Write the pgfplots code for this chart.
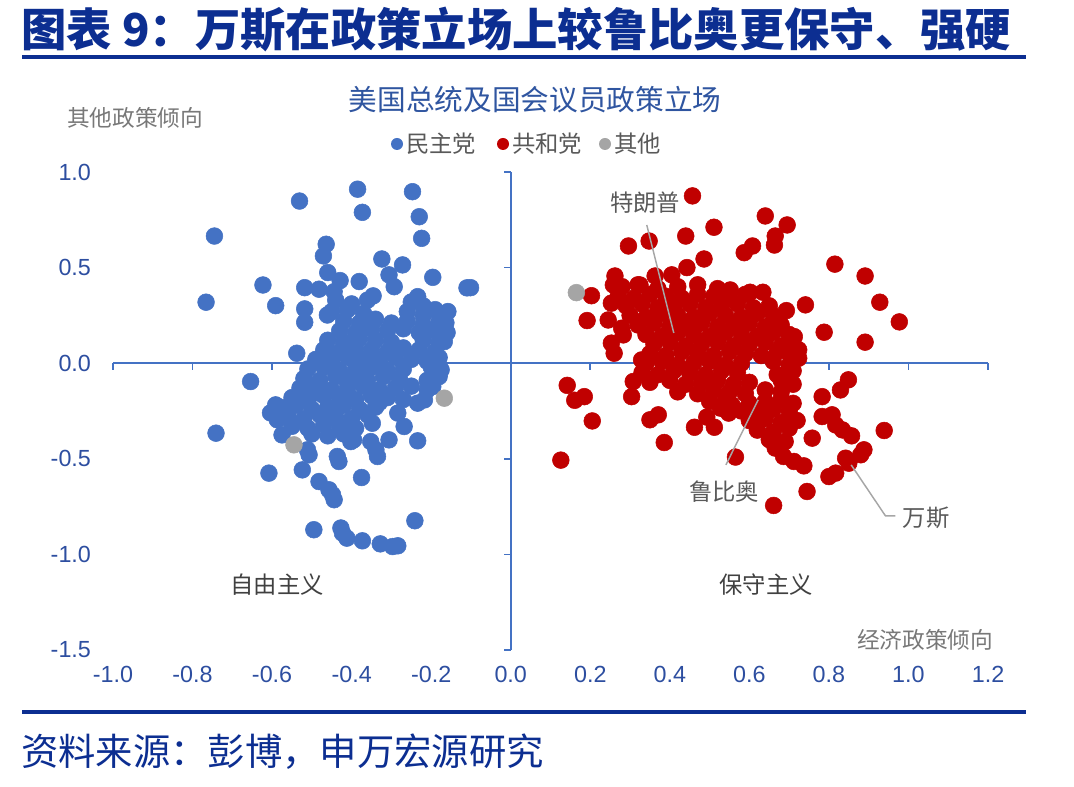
\documentclass[border=0pt]{standalone}
\usepackage{pgfplots}
\pgfplotsset{compat=1.18}
\usepackage{fontspec}
\setmainfont{Liberation Sans}
\newfontfamily\cjk{Noto Sans CJK SC}

\definecolor{titleblue}{RGB}{12,46,145}
\definecolor{chartblue}{RGB}{47,85,160}
\definecolor{tickblue}{RGB}{45,78,160}
\definecolor{axisblue}{RGB}{68,114,196}
\definecolor{dem}{RGB}{68,114,196}
\definecolor{rep}{RGB}{192,0,0}
\definecolor{oth}{RGB}{165,165,165}
\definecolor{lblgray}{RGB}{120,120,120}
\definecolor{annogray}{RGB}{89,89,89}
\definecolor{darkgray}{RGB}{64,64,64}
\definecolor{leader}{RGB}{166,166,166}

\begin{document}
\begin{tikzpicture}[x=0.75pt,y=0.75pt]
\path[use as bounding box] (0,0) rectangle (1074,787);

% heading and rules
\node[anchor=west, text=titleblue, font=\cjk\bfseries\fontsize{34}{40}\selectfont, inner sep=0pt] at (21,757) {图表 9：万斯在政策立场上较鲁比奥更保守、强硬};
\fill[titleblue] (22,728) rectangle (1026,732);
\fill[titleblue] (22,73) rectangle (1026,77);
\node[anchor=west, text=titleblue, font=\cjk\fontsize{28}{32}\selectfont, inner sep=0pt] at (21,35) {资料来源：彭博，申万宏源研究};

% chart title and legend
\node[text=chartblue, font=\cjk\fontsize{21.5}{24}\selectfont] at (535,687) {美国总统及国会议员政策立场};
\fill[dem] (397,643) circle (6);
\node[anchor=west, inner sep=0pt, text=annogray, font=\cjk\fontsize{17.5}{20}\selectfont] at (406,643) {民主党};
\fill[rep] (503,643) circle (6);
\node[anchor=west, inner sep=0pt, text=annogray, font=\cjk\fontsize{17.5}{20}\selectfont] at (512,643) {共和党};
\fill[oth] (605,643) circle (6);
\node[anchor=west, inner sep=0pt, text=annogray, font=\cjk\fontsize{17.5}{20}\selectfont] at (614,643) {其他};

\begin{axis}[
  at={(84.75pt,102.75pt)}, anchor=south west,
  scale only axis, width=656.25pt, height=358.5pt,
  xmin=-1, xmax=1.2, ymin=-1.5, ymax=1,
  clip=false,
  axis line style={draw=none},
  major tick length=0pt,
  xtick={-1,-0.8,-0.6,-0.4,-0.2,0,0.2,0.4,0.6,0.8,1,1.2},
  ytick={-1.5,-1,-0.5,0,0.5,1},
  /pgf/number format/assume math mode=true,
  /pgf/number format/fixed,
  /pgf/number format/fixed zerofill,
  /pgf/number format/precision=1,
  ticklabel style={font=\fontsize{17.5}{20}\selectfont, text=tickblue},
  xticklabel style={yshift=-9pt},
  yticklabel style={xshift=-13pt},
]
% crossing axes with their ticks
\draw[axisblue, line width=1.5pt] (axis cs:-1,0) -- (axis cs:1.2,0);
\draw[axisblue, line width=1.5pt] (axis cs:0,-1.5) -- (axis cs:0,1);
\pgfplotsinvokeforeach{-1,-0.8,-0.6,-0.4,-0.2,0,0.2,0.4,0.6,0.8,1,1.2}{
  \draw[axisblue, line width=1.2pt] (axis cs:#1,0) -- ([yshift=-5pt]axis cs:#1,0);
}
\pgfplotsinvokeforeach{-1.5,-1,-0.5,0,0.5,1}{
  \draw[axisblue, line width=1.2pt] (axis cs:0,#1) -- ([xshift=-5pt]axis cs:0,#1);
}

% Democrats
\addplot[dem, only marks, mark=*, mark size=6.3pt, mark options={draw=dem, fill=dem}] coordinates {
(-0.385,0.910) (-0.247,0.897) (-0.531,0.848) (-0.373,0.789) (-0.230,0.766)
(-0.745,0.665) (-0.224,0.653) (-0.464,0.622) (-0.471,0.561) (-0.324,0.545)
(-0.272,0.514) (-0.460,0.474) (-0.196,0.449) (-0.306,0.462) (-0.429,0.432)
(-0.381,0.427) (-0.623,0.409) (-0.518,0.395) (-0.482,0.387) (-0.444,0.374)
(-0.293,0.400) (-0.346,0.352) (-0.234,0.348) (-0.101,0.395) (-0.110,0.394)
(-0.766,0.319) (-0.591,0.301) (-0.518,0.284) (-0.518,0.214) (-0.461,0.252)
(-0.158,0.270) (-0.163,0.211) (-0.167,0.113) (-0.538,0.052) (-0.175,-0.035)
(-0.654,-0.096) (-0.741,-0.366) (-0.604,-0.260) (-0.591,-0.218) (-0.587,-0.296)
(-0.575,-0.375) (-0.511,-0.453) (-0.507,-0.479) (-0.436,-0.488) (-0.432,-0.514)
(-0.402,-0.410) (-0.395,-0.401) (-0.352,-0.410) (-0.339,-0.453) (-0.335,-0.488)
(-0.348,-0.314) (-0.306,-0.401) (-0.234,-0.406) (-0.268,-0.331) (-0.284,-0.261)
(-0.234,-0.209) (-0.217,-0.192) (-0.196,-0.122) (-0.608,-0.575) (-0.524,-0.558)
(-0.482,-0.619) (-0.457,-0.662) (-0.448,-0.688) (-0.444,-0.714) (-0.375,-0.598)
(-0.495,-0.871) (-0.427,-0.862) (-0.423,-0.889) (-0.412,-0.915) (-0.373,-0.929)
(-0.328,-0.945) (-0.297,-0.959) (-0.284,-0.955) (-0.241,-0.824)
(-0.44,0.33) (-0.40,0.31) (-0.36,0.33) (-0.25,0.32) (-0.22,0.30)
(-0.45,0.27) (-0.41,0.28) (-0.37,0.26) (-0.26,0.27) (-0.22,0.25) (-0.19,0.28)
(-0.42,0.22) (-0.38,0.21) (-0.34,0.23) (-0.30,0.21) (-0.26,0.22) (-0.22,0.20) (-0.18,0.22)
(-0.43,0.17) (-0.39,0.16) (-0.35,0.18) (-0.31,0.17) (-0.27,0.18) (-0.23,0.16) (-0.19,0.17) (-0.16,0.16)
(-0.46,0.12) (-0.42,0.11) (-0.38,0.13) (-0.34,0.12) (-0.30,0.11) (-0.22,0.12) (-0.18,0.11)
(-0.47,0.07) (-0.43,0.06) (-0.39,0.08) (-0.35,0.07) (-0.31,0.06) (-0.27,0.08) (-0.23,0.07) (-0.19,0.06)
(-0.49,0.02) (-0.45,0.01) (-0.41,0.03) (-0.37,0.02) (-0.33,0.01) (-0.29,0.03) (-0.25,0.02) (-0.21,0.01) (-0.18,0.03)
(-0.51,-0.03) (-0.47,-0.02) (-0.43,-0.04) (-0.39,-0.03) (-0.35,-0.02) (-0.31,-0.04) (-0.27,-0.03) (-0.20,-0.02)
(-0.52,-0.08) (-0.48,-0.09) (-0.44,-0.07) (-0.40,-0.08) (-0.36,-0.09) (-0.32,-0.07) (-0.28,-0.08) (-0.21,-0.09) (-0.18,-0.07)
(-0.53,-0.13) (-0.49,-0.12) (-0.45,-0.14) (-0.41,-0.13) (-0.37,-0.12) (-0.33,-0.14) (-0.29,-0.13) (-0.25,-0.12) (-0.21,-0.14)
(-0.55,-0.18) (-0.51,-0.19) (-0.47,-0.17) (-0.43,-0.18) (-0.39,-0.19) (-0.35,-0.17) (-0.31,-0.18) (-0.27,-0.19)
(-0.58,-0.23) (-0.54,-0.22) (-0.50,-0.24) (-0.46,-0.23) (-0.42,-0.22) (-0.38,-0.24) (-0.34,-0.23)
(-0.56,-0.28) (-0.52,-0.29) (-0.48,-0.27) (-0.44,-0.28) (-0.40,-0.29) (-0.36,-0.27)
(-0.55,-0.33) (-0.51,-0.34) (-0.47,-0.32) (-0.43,-0.33) (-0.39,-0.34)
(-0.50,-0.37) (-0.46,-0.38) (-0.42,-0.37)
(-0.45,0.045) (-0.37,-0.055) (-0.41,-0.105) (-0.49,-0.155) (-0.45,-0.255) (-0.33,-0.205)
};

% Republicans
\addplot[rep, only marks, mark=*, mark size=6.3pt, mark options={draw=rep, fill=rep}] coordinates {
(0.457,0.875) (0.640,0.770) (0.695,0.723) (0.511,0.711) (0.440,0.665)
(0.348,0.639) (0.296,0.613) (0.665,0.665) (0.663,0.618) (0.608,0.613)
(0.587,0.578) (0.486,0.545) (0.815,0.518) (0.891,0.456) (0.443,0.500)
(0.928,0.319) (0.977,0.216) (0.741,0.305) (0.693,0.275) (0.788,0.162)
(0.891,0.110) (0.203,0.353) (0.192,0.223) (0.262,0.456) (0.258,0.409)
(0.405,0.462) (0.363,0.456) (0.325,0.409) (0.602,0.371) (0.634,0.371)
(0.552,0.383) (0.253,0.314) (0.245,0.226) (0.253,0.105) (0.260,0.052)
(0.329,0.017) (0.279,0.183) (0.283,0.148) (0.713,0.139) (0.724,0.070)
(0.724,0.026) (0.142,-0.116) (0.161,-0.194) (0.185,-0.175) (0.205,-0.302)
(0.126,-0.507) (0.304,-0.175) (0.308,-0.096) (0.350,-0.296) (0.371,-0.270)
(0.386,-0.415) (0.462,-0.335) (0.493,-0.282) (0.512,-0.335) (0.565,-0.491)
(0.527,-0.235) (0.548,-0.261) (0.556,-0.218) (0.665,-0.444) (0.686,-0.488)
(0.712,-0.514) (0.737,-0.537) (0.745,-0.671) (0.661,-0.744) (0.758,-0.392)
(0.783,-0.175) (0.783,-0.279) (0.808,-0.270) (0.817,-0.323) (0.834,-0.349)
(0.857,-0.380) (0.829,-0.140) (0.849,-0.087) (0.842,-0.497) (0.850,-0.523)
(0.800,-0.593) (0.817,-0.575) (0.939,-0.352) (0.888,-0.453) (0.880,-0.479)
(0.28,0.40) (0.32,0.41) (0.37,0.39) (0.42,0.40) (0.47,0.41) (0.52,0.39)
(0.27,0.35) (0.31,0.34) (0.35,0.36) (0.39,0.35) (0.43,0.34) (0.47,0.36) (0.51,0.35) (0.55,0.34) (0.59,0.36)
(0.29,0.30) (0.33,0.31) (0.37,0.29) (0.41,0.30) (0.45,0.31) (0.49,0.29) (0.53,0.30) (0.57,0.31) (0.61,0.29) (0.65,0.30)
(0.30,0.25) (0.34,0.24) (0.38,0.26) (0.42,0.25) (0.46,0.24) (0.50,0.26) (0.54,0.25) (0.58,0.24) (0.62,0.26) (0.66,0.25)
(0.32,0.20) (0.36,0.21) (0.40,0.19) (0.44,0.20) (0.48,0.21) (0.52,0.19) (0.56,0.20) (0.60,0.21) (0.64,0.19) (0.68,0.20)
(0.34,0.15) (0.38,0.14) (0.42,0.16) (0.46,0.15) (0.50,0.14) (0.54,0.16) (0.58,0.15) (0.62,0.14) (0.66,0.16) (0.70,0.15)
(0.36,0.10) (0.40,0.11) (0.44,0.09) (0.48,0.10) (0.52,0.11) (0.56,0.09) (0.60,0.10) (0.64,0.11) (0.68,0.09) (0.71,0.10)
(0.35,0.05) (0.39,0.04) (0.43,0.06) (0.47,0.05) (0.51,0.04) (0.55,0.06) (0.59,0.05) (0.63,0.04) (0.67,0.06) (0.70,0.05)
(0.34,0.00) (0.38,0.01) (0.42,-0.01) (0.46,0.00) (0.50,0.01) (0.54,-0.01) (0.58,0.00) (0.66,0.01) (0.70,-0.01)
(0.33,-0.05) (0.37,-0.06) (0.41,-0.04) (0.45,-0.05) (0.49,-0.06) (0.53,-0.04) (0.57,-0.05) (0.67,-0.06) (0.71,-0.04)
(0.35,-0.10) (0.40,-0.09) (0.44,-0.11) (0.48,-0.10) (0.52,-0.09) (0.56,-0.11) (0.60,-0.10) (0.68,-0.09) (0.71,-0.11)
(0.42,-0.15) (0.47,-0.16) (0.51,-0.14) (0.55,-0.15) (0.59,-0.16) (0.64,-0.14) (0.68,-0.15)
(0.50,-0.20) (0.54,-0.19) (0.60,-0.21) (0.64,-0.20) (0.68,-0.19) (0.71,-0.21)
(0.58,-0.25) (0.62,-0.26) (0.66,-0.24) (0.70,-0.25)
(0.60,-0.30) (0.64,-0.29) (0.68,-0.31) (0.72,-0.30)
(0.62,-0.35) (0.66,-0.36) (0.70,-0.34)
(0.65,-0.40) (0.69,-0.41)
};

% Others
\addplot[oth, only marks, mark=*, mark size=6.3pt, mark options={draw=oth, fill=oth}] coordinates {
(-0.167,-0.183) (-0.545,-0.427) (0.165,0.369)
};

% anchor points of the leader lines for named politicians
\coordinate (trumpA) at (axis cs:0.342,0.723);
\coordinate (trumpB) at (axis cs:0.410,0.158);
\coordinate (rubioA) at (axis cs:0.541,-0.532);
\coordinate (rubioB) at (axis cs:0.622,-0.192);
\coordinate (vanceA) at (axis cs:0.856,-0.532);
\coordinate (vanceB) at (axis cs:0.942,-0.798);
\coordinate (vanceC) at (axis cs:0.967,-0.798);
\end{axis}

% leader lines drawn above the markers
\draw[leader, line width=1.1pt] (trumpA) -- (trumpB);
\draw[leader, line width=1.1pt] (rubioA) -- (rubioB);
\draw[leader, line width=1.1pt] (vanceA) -- (vanceB) -- (vanceC);

% axis titles and annotations
\node[text=lblgray, font=\cjk\fontsize{17}{20}\selectfont] at (135,669) {其他政策倾向};
\node[text=lblgray, font=\cjk\fontsize{17}{20}\selectfont] at (925,147) {经济政策倾向};
\node[text=darkgray, font=\cjk\fontsize{17.5}{20}\selectfont] at (277,202) {自由主义};
\node[text=darkgray, font=\cjk\fontsize{17.5}{20}\selectfont] at (766,202) {保守主义};
\node[text=annogray, font=\cjk\fontsize{17.5}{20}\selectfont] at (645,584) {特朗普};
\node[text=annogray, font=\cjk\fontsize{17.5}{20}\selectfont] at (724,295) {鲁比奥};
\node[text=annogray, font=\cjk\fontsize{17.5}{20}\selectfont] at (926,269) {万斯};
\end{tikzpicture}
\end{document}
